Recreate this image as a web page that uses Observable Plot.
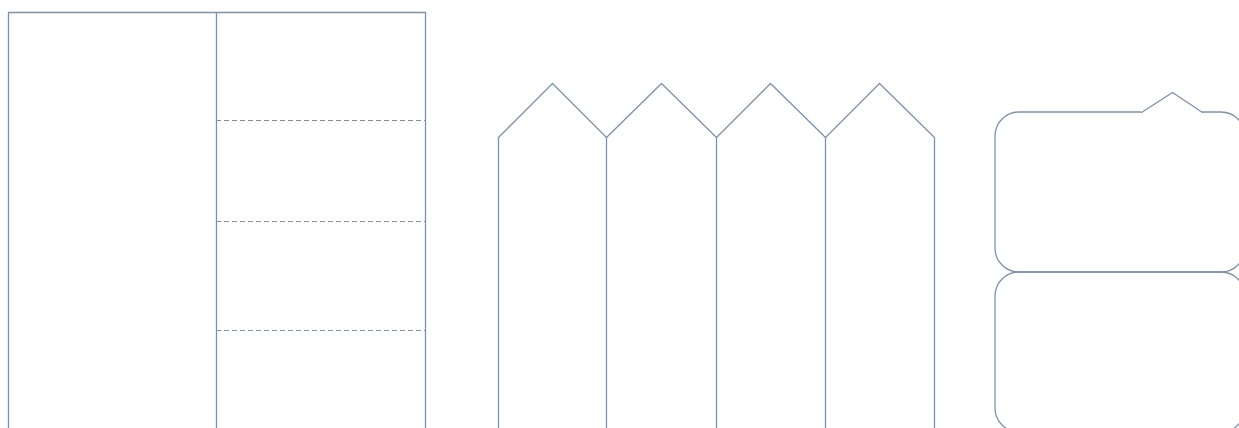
<!DOCTYPE html>
<html>
<head>
<meta charset="utf-8">
<script src="https://cdn.jsdelivr.net/npm/d3@7"></script>
<script src="https://cdn.jsdelivr.net/npm/@observablehq/plot@0.6"></script>
<style>
  html, body { margin: 0; padding: 0; background: #ffffff; overflow: hidden; }
  #chart svg { display: block; }
</style>
</head>
<body>
<div id="chart"></div>
<script>
// Panel 1: frame with divider and dashed rows
const panelX = [8, 425];
const panelTop = 12;
const panelBottom = 428;
const dividerX = 216;
const dashY = [120, 221, 330];

// Panel 2: picket fence
const fenceBaseX = [498, 606, 716, 825, 934];
const fencePeakX = [552, 661, 770, 879];
const fenceShoulderY = 137;
const fencePeakY = 83;

// Panel 3: rounded boxes with a tab
const boxX = [995, 1245];
const boxTops = [112, 272];
const boxBottoms = [272, 432];
const tabX = [1141, 1172, 1202];
const tabY = [112, 92, 112];

const stroke = "#7d91ab";
const sw = 1.3;

// Build point lists from the arrays
const frame = [
  {x: panelX[0], y: panelBottom},
  {x: panelX[0], y: panelTop},
  {x: panelX[1], y: panelTop},
  {x: panelX[1], y: panelBottom}
];

const fence = [];
fence.push({x: fenceBaseX[0], y: panelBottom});
fenceBaseX.forEach((bx, i) => {
  fence.push({x: bx, y: fenceShoulderY});
  if (i < fencePeakX.length) fence.push({x: fencePeakX[i], y: fencePeakY});
});
fence.push({x: fenceBaseX[fenceBaseX.length - 1], y: panelBottom});
const fenceInner = fenceBaseX.slice(1, -1);

const boxes = boxTops.map((t, i) => ({x1: boxX[0], x2: boxX[1], y1: t, y2: boxBottoms[i]}));
const tab = tabX.map((x, i) => ({x, y: tabY[i]}));

const chart = Plot.plot({
  width: 1239,
  height: 428,
  margin: 0,
  x: {domain: [0, 1239], range: [0, 1239], axis: null},
  y: {domain: [0, 428], range: [0, 428], axis: null},
  style: {background: "#ffffff", overflow: "visible"},
  marks: [
    Plot.line(frame, {x: "x", y: "y", stroke, strokeWidth: sw}),
    Plot.ruleX([dividerX], {y1: panelTop, y2: panelBottom, stroke, strokeWidth: sw}),
    Plot.ruleY(dashY, {x1: dividerX, x2: panelX[1], stroke, strokeWidth: 1.2, strokeDasharray: "5,3"}),
    Plot.line(fence, {x: "x", y: "y", stroke, strokeWidth: sw}),
    Plot.ruleX(fenceInner, {y1: fenceShoulderY, y2: panelBottom, stroke, strokeWidth: sw}),
    Plot.rect(boxes, {x1: "x1", x2: "x2", y1: "y1", y2: "y2", fill: "none", stroke, strokeWidth: sw, rx: 24, ry: 24}),
    Plot.ruleY([tabY[0]], {x1: tabX[0], x2: tabX[2], stroke: "#ffffff", strokeWidth: 3}),
    Plot.line(tab, {x: "x", y: "y", stroke, strokeWidth: sw})
  ]
});
document.getElementById("chart").appendChild(chart);
</script>
</body>
</html>
